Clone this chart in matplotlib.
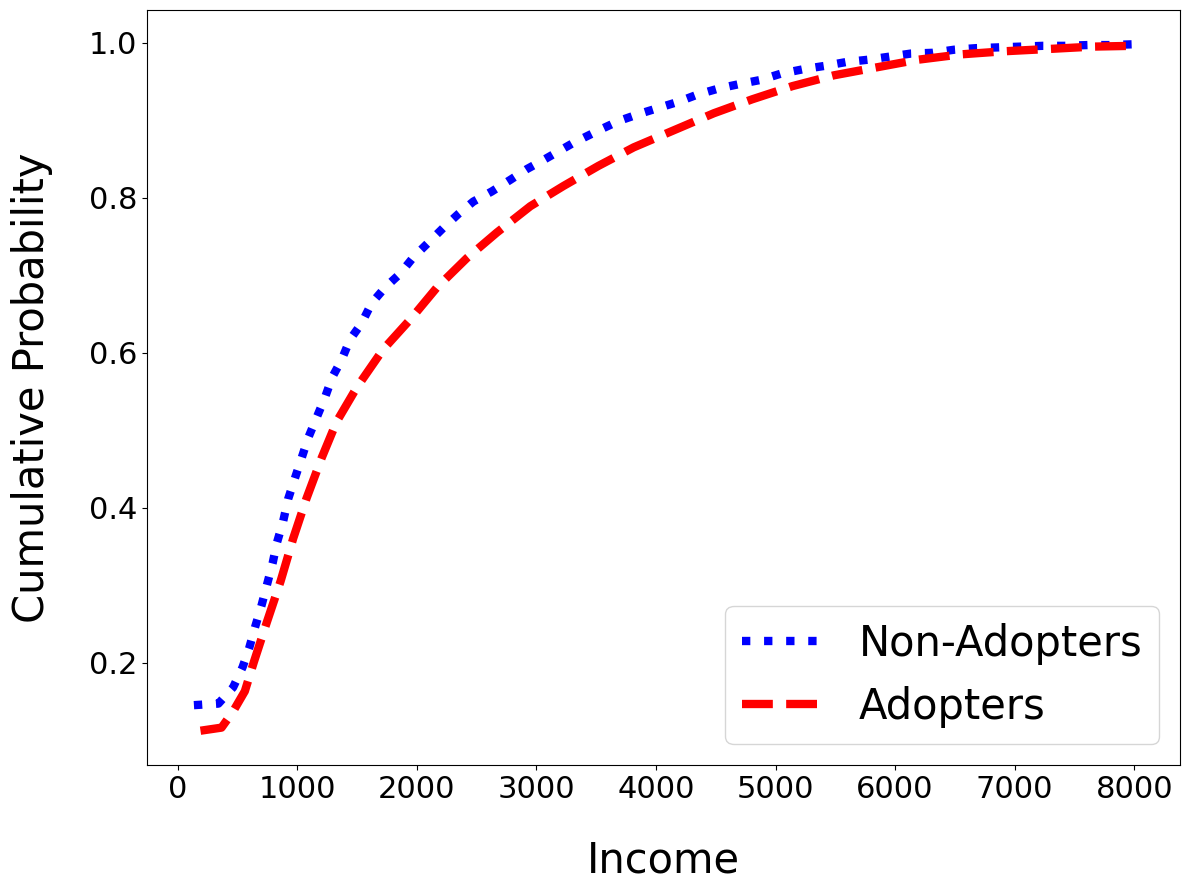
import matplotlib
matplotlib.use("Agg")
import matplotlib.pyplot as plt

non_x = [135, 340, 463, 542, 596, 647, 701, 747, 793, 830, 881, 923, 980, 1036, 1091,
         1161, 1231, 1291, 1371, 1441, 1538, 1622, 1734, 1860, 1970, 2096, 2221, 2347,
         2472, 2626, 2781, 2921, 3074, 3300, 3535, 3688, 3856, 4023, 4191, 4345, 4526,
         4708, 4875, 5043, 5238, 5406, 5588, 5769, 5950, 6131, 6313, 6494, 6676, 6862,
         7053, 7234, 7416, 7611, 7793, 7990]
non_y = [0.145, 0.147, 0.168, 0.194, 0.218, 0.246, 0.274, 0.301, 0.328, 0.355, 0.382,
         0.411, 0.438, 0.464, 0.490, 0.516, 0.542, 0.568, 0.591, 0.617, 0.638, 0.664,
         0.684, 0.702, 0.723, 0.742, 0.761, 0.779, 0.795, 0.808, 0.823, 0.837, 0.850,
         0.870, 0.888, 0.899, 0.908, 0.916, 0.924, 0.933, 0.941, 0.947, 0.952, 0.960,
         0.966, 0.970, 0.975, 0.978, 0.982, 0.986, 0.987, 0.991, 0.993, 0.994, 0.995,
         0.996, 0.996, 0.997, 0.997, 0.998]

ad_x = [190, 366, 463, 561, 637, 747, 860, 965, 1077, 1203, 1329, 1497, 1717, 1957,
        2167, 2418, 2669, 2949, 3225, 3518, 3814, 4149, 4484, 4805, 5141, 5490,
        5838, 6187, 6551, 6914, 7291, 7654, 7990]
ad_y = [0.112, 0.116, 0.137, 0.163, 0.201, 0.253, 0.305, 0.360, 0.412, 0.464, 0.511,
        0.555, 0.604, 0.645, 0.684, 0.722, 0.755, 0.789, 0.815, 0.841, 0.865,
        0.887, 0.909, 0.927, 0.944, 0.958, 0.968, 0.978, 0.985, 0.989, 0.992, 0.995,
        0.996]

fig = plt.figure(figsize=(11.89, 8.9), dpi=100)
ax = fig.add_axes([0.1236, 0.1404, 0.8688, 0.8484])
ax.plot(non_x, non_y, color="blue", linestyle=":", linewidth=6, label="Non-Adopters")
ax.plot(ad_x, ad_y, color="red", linestyle="--", linewidth=6, label="Adopters")
ax.set_xlabel("Income", fontsize=30, labelpad=26)
ax.set_ylabel("Cumulative Probability", fontsize=30, labelpad=26)
ax.tick_params(labelsize=22)
ax.legend(loc="lower right", fontsize=30)
fig.savefig("out.png", dpi=100)
